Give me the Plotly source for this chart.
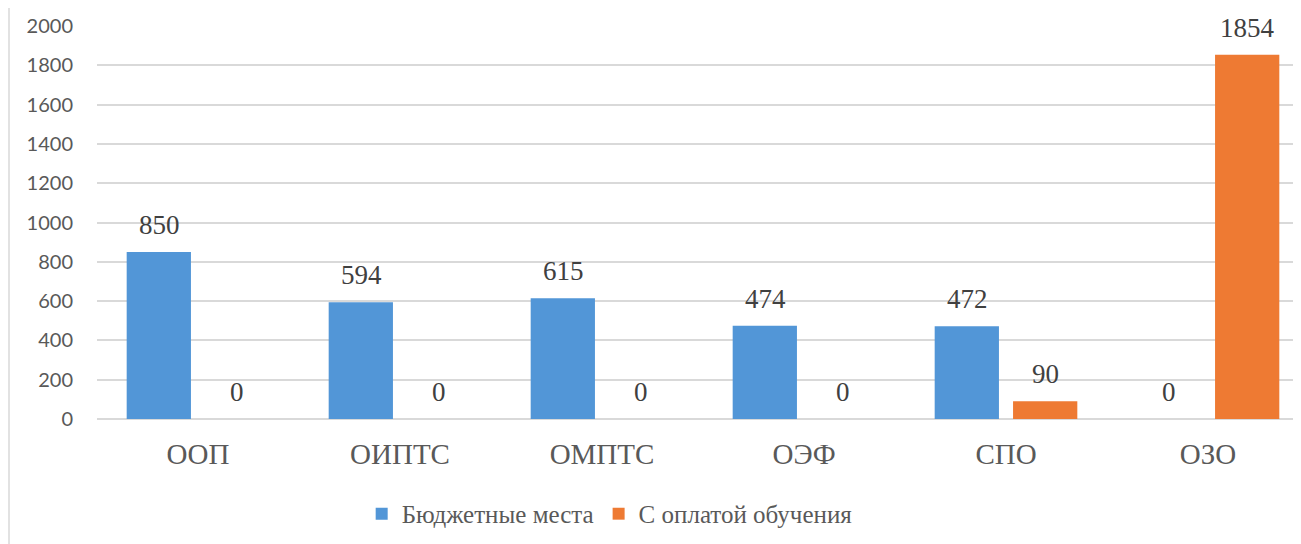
import plotly.graph_objects as go

categories = ["ООП", "ОИПТС", "ОМПТС", "ОЭФ", "СПО", "ОЗО"]
budget = [850, 594, 615, 474, 472, 0]
paid = [0, 0, 0, 0, 90, 1854]
series_names = ["Бюджетные места", "С оплатой обучения"]
y_ticks = [0, 200, 400, 600, 800, 1000, 1200, 1400, 1600, 1800, 2000]

BLUE = "#5296d7"
ORANGE = "#ee7a33"
SERIF = "Liberation Serif, Times New Roman, serif"

fig = go.Figure()
fig.add_trace(go.Bar(x=categories, y=budget, name=series_names[0],
                     marker=dict(color=BLUE, line=dict(width=0))))
fig.add_trace(go.Bar(x=categories, y=paid, name=series_names[1],
                     marker=dict(color=ORANGE, line=dict(width=0))))

annotations = []
for vals, shift in ((budget, -39), (paid, 39)):
    for c, v in zip(categories, vals):
        annotations.append(dict(x=c, y=v, xref="x", yref="y", text=str(v),
                                showarrow=False, xshift=shift, yanchor="bottom",
                                yshift=10,
                                font=dict(family=SERIF, size=27, color="#404040")))

L = 89
PW = 1212
fig.update_layout(
    width=1301, height=544,
    margin=dict(l=L, r=0, t=18, b=133),
    paper_bgcolor="white", plot_bgcolor="white",
    barmode="group", bargap=0.224, bargroupgap=0.18,
    annotations=annotations,
    showlegend=True,
    legend=dict(orientation="h", x=0.423, xanchor="center", y=-0.183, yanchor="top",
                font=dict(family=SERIF, size=25, color="#595959"),
                itemwidth=30, tracegroupgap=0),
    xaxis=dict(showgrid=False, showline=False, ticks="",
               tickfont=dict(family=SERIF, size=29, color="#595959"),
               ticklabelstandoff=15),
    yaxis=dict(range=[0, 2000], tickvals=y_ticks, showgrid=True,
               gridcolor="#d9d9d9", gridwidth=1.5, zeroline=True,
               zerolinecolor="#d9d9d9", zerolinewidth=1.5, showline=False,
               tickfont=dict(family="Lato, Carlito, sans-serif", size=20, color="#595959"),
               ticklabelstandoff=23),
    shapes=[dict(type="line", xref="paper", yref="paper",
                 x0=(1 - L) / PW, x1=(1 - L) / PW, y0=-0.4, y1=1.1,
                 line=dict(color="#d9d9d9", width=1.5))],
)

fig.write_html("out.html")
